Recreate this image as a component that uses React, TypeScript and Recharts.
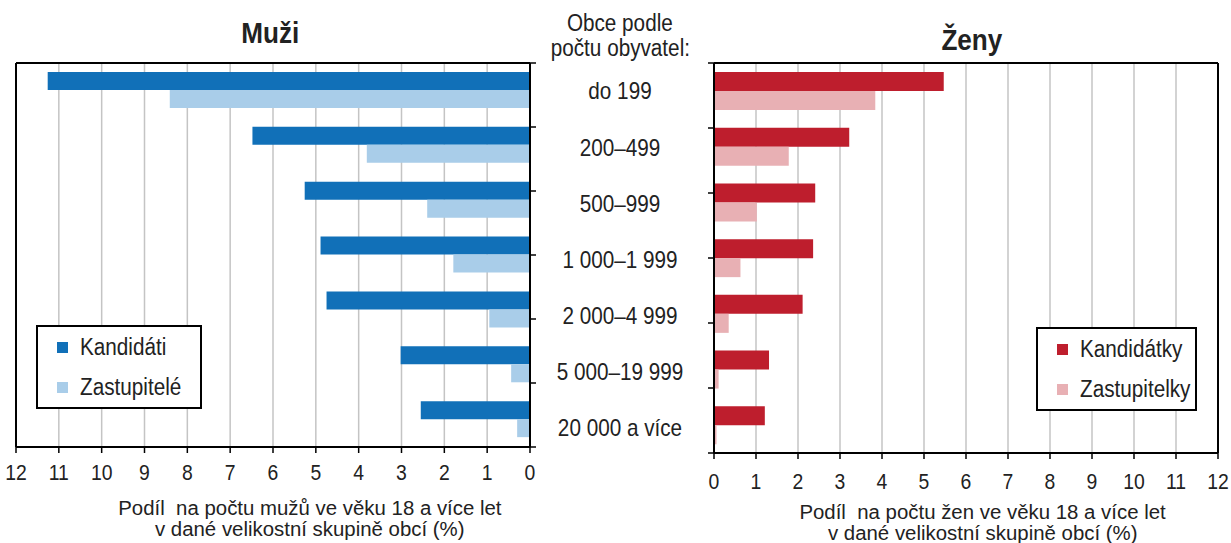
import {
  BarChart, Bar, XAxis, YAxis, CartesianGrid, Legend
} from "recharts";

const categories = ["do 199", "200–499", "500–999", "1 000–1 999", "2 000–4 999", "5 000–19 999", "20 000 a více"];
const kandidati = [11.26, 6.48, 5.26, 4.89, 4.75, 3.02, 2.55];
const zastupitele = [8.41, 3.81, 2.4, 1.79, 0.95, 0.44, 0.3];
const kandidatky = [5.47, 3.22, 2.41, 2.36, 2.11, 1.31, 1.21];
const zastupitelky = [3.84, 1.78, 1.02, 0.63, 0.35, 0.11, 0.06];
const xTicks = [0, 1, 2, 3, 4, 5, 6, 7, 8, 9, 10, 11, 12];
const bandTicks = [0, 1, 2, 3, 4, 5, 6, 7];

const menData = categories.map((c, i) => ({ cat: c, kand: kandidati[i], zast: zastupitele[i] }));
const womenData = categories.map((c, i) => ({ cat: c, kand: kandidatky[i], zast: zastupitelky[i] }));

const FONT = '"Liberation Sans", Arial, sans-serif';
const GRID = "#c4c4c4";
const INK = "#222";
const SQ = 0.9; // the original text is a bit squeezed horizontally

const Narrow = ({ children, origin = "center", s = SQ }: any) => (
  <span style={{ display: "inline-block", transform: `scaleX(${s})`, transformOrigin: origin, whiteSpace: "nowrap" }}>{children}</span>
);

const LegendBox = ({ payload }: any) => (
  <div style={{ border: "2px solid #000", background: "#fff", padding: "0 10px 0 19px", fontFamily: FONT, fontSize: 23, color: INK }}>
    {(payload || []).map((p: any) => (
      <div key={p.value} style={{ display: "flex", alignItems: "center", height: 40 }}>
        <span style={{ width: 11, height: 11, background: p.color, marginRight: 12, display: "inline-block", flex: "none" }} />
        <Narrow origin="left">{p.value}</Narrow>
      </div>
    ))}
  </div>
);

// the middle labels sit a little lower than the men's bands
const CatTick = ({ y, payload, index }: any) => (
  <g transform={`translate(620,${y + 1 + 1.2 * (index ?? 0)}) scale(${SQ},1)`}>
    <text x={0} y={0} dy={8} textAnchor="middle" fontSize={23} fill={INK} fontFamily={FONT}>{payload.value}</text>
  </g>
);

const numTick = (dy: number) => ({ x, y, payload }: any) => (
  <g transform={`translate(${x},${y}) scale(0.88,1)`}>
    <text x={0} y={0} dy={dy} textAnchor="middle" fontSize={22} fill={INK} fontFamily={FONT}>{payload.value}</text>
  </g>
);

const noTick = () => <g />;
const axisLine = { stroke: "#000", strokeWidth: 2 };
const tickLine = { stroke: "#000", strokeWidth: 1.5 };

export default function App() {
  return (
    <div style={{ position: "absolute", left: 0, top: 0, width: 1231, height: 543, overflow: "hidden", background: "#fff", fontFamily: FONT, color: INK }}>
      <div style={{ position: "absolute", left: 170, width: 200, top: 17, textAlign: "center", fontWeight: "bold", fontSize: 29 }}><Narrow>Muži</Narrow></div>
      <div style={{ position: "absolute", left: 872, width: 200, top: 24, textAlign: "center", fontWeight: "bold", fontSize: 29 }}><Narrow>Ženy</Narrow></div>
      <div style={{ position: "absolute", left: 520, width: 200, top: 11, textAlign: "center", fontSize: 23, lineHeight: "25px" }}>
        <Narrow>Obce podle</Narrow><br /><Narrow>počtu obyvatel:</Narrow>
      </div>

      <div style={{ position: "absolute", left: 60, width: 500, top: 498, textAlign: "center", fontSize: 20, lineHeight: "21px" }}>
        <Narrow s={1.02}>Podíl&nbsp; na počtu mužů ve věku 18 a více let</Narrow><br /><Narrow s={1.02}>v dané velikostní skupině obcí (%)</Narrow>
      </div>
      <div style={{ position: "absolute", left: 733, width: 500, top: 502, textAlign: "center", fontSize: 20, lineHeight: "21px" }}>
        <Narrow s={1.02}>Podíl&nbsp; na počtu žen ve věku 18 a více let</Narrow><br /><Narrow s={1.02}>v dané velikostní skupině obcí (%)</Narrow>
      </div>

      <div style={{ position: "absolute", left: 0, top: 0 }}>
        <BarChart width={700} height={500} data={menData} layout="vertical" barSize={18} barGap={0}
          margin={{ top: 62, right: 0, bottom: 20, left: 15 }}>
          <CartesianGrid horizontal={false} stroke={GRID} strokeWidth={1.5} />
          <XAxis type="number" domain={[0, 12]} ticks={xTicks} reversed interval={0} height={33}
            axisLine={axisLine} tickLine={tickLine} tickSize={6} tickMargin={0} tick={numTick(27)} />
          <XAxis xAxisId="top" type="number" domain={[0, 12]} orientation="top" height={1}
            axisLine={axisLine} tickLine={false} tick={false} />
          <YAxis yAxisId="l" type="number" domain={[0, 7]} orientation="left" width={1}
            axisLine={axisLine} tickLine={false} tick={false} />
          <YAxis yAxisId="b" type="number" domain={[0, 7]} ticks={bandTicks} reversed orientation="right" width={15}
            axisLine={axisLine} tickLine={tickLine} tickSize={6} tick={noTick} interval={0} />
          <YAxis yAxisId="cat" type="category" dataKey="cat" orientation="right" width={155}
            axisLine={false} tickLine={false} tick={(p: any) => <CatTick {...p} />} interval={0} />
          <Legend layout="vertical" align="center" verticalAlign="middle" content={<LegendBox />}
            wrapperStyle={{ left: 36, top: 325, width: 166 }} />
          <Bar yAxisId="cat" dataKey="kand" name="Kandidáti" fill="#1170b8" isAnimationActive={false} />
          <Bar yAxisId="cat" dataKey="zast" name="Zastupitelé" fill="#a9cde9" isAnimationActive={false} />
        </BarChart>
      </div>

      <div style={{ position: "absolute", left: 690, top: 0 }}>
        <BarChart width={541} height={506} data={womenData} layout="vertical" barSize={19} barGap={0}
          margin={{ top: 62, right: 12, bottom: 20, left: 0 }}>
          <CartesianGrid horizontal={false} stroke={GRID} strokeWidth={1.5} />
          <XAxis type="number" domain={[0, 12]} ticks={xTicks} interval={0} height={33}
            axisLine={axisLine} tickLine={tickLine} tickSize={6} tickMargin={0} tick={numTick(30)} />
          <XAxis xAxisId="top" type="number" domain={[0, 12]} orientation="top" height={1}
            axisLine={axisLine} tickLine={false} tick={false} />
          <YAxis yAxisId="cat" type="category" dataKey="cat" hide />
          <YAxis yAxisId="b" type="number" domain={[0, 7]} ticks={bandTicks} reversed orientation="left" width={24}
            axisLine={axisLine} tickLine={tickLine} tickSize={6} tick={noTick} interval={0} />
          <YAxis yAxisId="r" type="number" domain={[0, 7]} orientation="right" width={1}
            axisLine={axisLine} tickLine={false} tick={false} />
          <Legend layout="vertical" align="center" verticalAlign="middle" content={<LegendBox />}
            wrapperStyle={{ left: 346, top: 327, width: 161 }} />
          <Bar yAxisId="cat" dataKey="kand" name="Kandidátky" fill="#be1e2d" isAnimationActive={false} />
          <Bar yAxisId="cat" dataKey="zast" name="Zastupitelky" fill="#e8b0b4" isAnimationActive={false} />
        </BarChart>
      </div>
    </div>
  );
}
